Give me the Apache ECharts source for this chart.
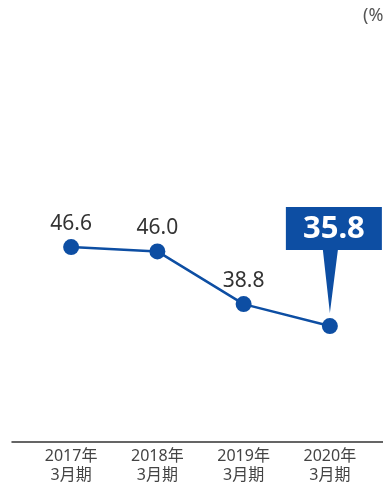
<!DOCTYPE html>
<html>
<head>
<meta charset="utf-8">
<script src="https://cdn.jsdelivr.net/npm/echarts@6/dist/echarts.min.js"></script>
<style>
  html, body { margin: 0; padding: 0; background: #fff; }
  #chart { width: 383px; height: 485px; }
</style>
</head>
<body>
<div id="chart"></div>
<script>
// Fiscal periods and ratio values (%)
const categories = ['2017年\n3月期', '2018年\n3月期', '2019年\n3月期', '2020年\n3月期'];
const ratios = [46.6, 46.0, 38.8, 35.8];
const unitLabel = '(%)';

const BLUE = '#0d4ea3';
const TEXT = '#333333';
const FONT = '"Noto Sans", "Noto Sans CJK JP", sans-serif';

const lastIdx = ratios.length - 1;

// Callout shape: box with a pointer whose tip sits just above the marker
const calloutPath = 'path://M0,0 L96,0 L96,43 L52,43 L44,106 L37,43 L0,43 Z';

const chart = echarts.init(document.getElementById('chart'), null, { renderer: 'canvas' });

chart.setOption({
  animation: false,
  backgroundColor: '#ffffff',
  title: {
    text: unitLabel,
    left: 358,
    top: 2,
    textStyle: { fontFamily: FONT, fontSize: 18, fontWeight: 'normal', color: '#555' }
  },
  grid: [
    { left: 28, right: 10, top: 149, bottom: 43 },
    { left: 12, right: 0, top: 149, bottom: 43 }
  ],
  xAxis: [
    {
      type: 'category',
      gridIndex: 0,
      data: categories,
      boundaryGap: true,
      axisLine: { show: false },
      axisTick: { show: false },
      axisLabel: {
        fontFamily: FONT,
        fontSize: 16,
        color: '#444',
        lineHeight: 19,
        margin: 9
      }
    },
    {
      type: 'category',
      gridIndex: 1,
      data: categories,
      axisLine: { show: true, lineStyle: { color: '#333', width: 1.5 } },
      axisTick: { show: false },
      axisLabel: { show: false }
    }
  ],
  yAxis: [
    {
      type: 'value',
      gridIndex: 0,
      min: 20.5,
      max: 60,
      show: false,
      splitLine: { show: false }
    },
    {
      type: 'value',
      gridIndex: 1,
      min: 20.5,
      max: 60,
      show: false,
      splitLine: { show: false }
    }
  ],
  series: [
    {
      type: 'line',
      xAxisIndex: 0,
      yAxisIndex: 0,
      data: ratios.map((v, i) => ({
        value: v,
        label: { show: i !== lastIdx }
      })),
      symbol: 'circle',
      symbolSize: 16,
      lineStyle: { color: BLUE, width: 2.5 },
      itemStyle: { color: BLUE, borderColor: '#fff', borderWidth: 0 },
      label: {
        show: true,
        position: 'top',
        distance: 5,
        formatter: p => p.value.toFixed(1),
        fontFamily: FONT,
        fontSize: 21,
        color: TEXT
      },
      markPoint: {
        symbol: calloutPath,
        symbolSize: [96, 106],
        symbolKeepAspect: false,
        symbolOffset: [4, -66],
        itemStyle: { color: BLUE },
        label: {
          show: true,
          position: 'inside',
          offset: [0, -31],
          formatter: ratios[lastIdx].toFixed(1),
          fontFamily: FONT,
          fontSize: 31,
          fontWeight: 'bold',
          color: '#ffffff'
        },
        data: [{ coord: [lastIdx, ratios[lastIdx]], value: ratios[lastIdx] }]
      }
    }
  ]
});
</script>
</body>
</html>
